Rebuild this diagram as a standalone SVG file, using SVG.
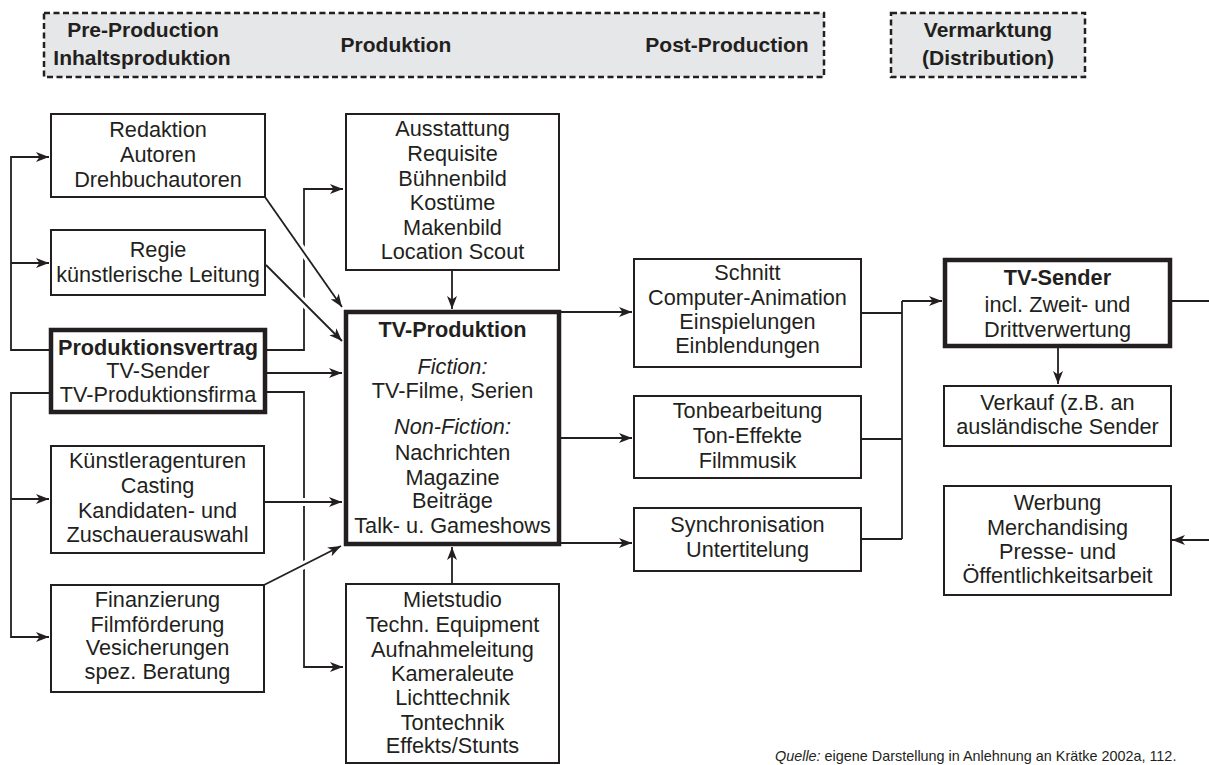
<svg xmlns="http://www.w3.org/2000/svg" width="1209" height="765" viewBox="0 0 1209 765">
<style>
text{font-family:"Liberation Sans",Arial,sans-serif;font-size:21.7px;fill:#231f20;text-anchor:middle}
.b{font-weight:bold}
.h{font-size:21px}
.i{font-style:italic}
.box{fill:#fff;stroke:#231f20;stroke-width:2}
.thick{fill:#fff;stroke:#231f20;stroke-width:4.5}
.hdr{fill:#e6e7e8;stroke:#231f20;stroke-width:2.5;stroke-dasharray:6 3.5}
.ln{fill:none;stroke:#231f20;stroke-width:1.8}
.arr{fill:none;stroke:#231f20;stroke-width:1.8;marker-end:url(#ah)}
.halo{fill:none;stroke:#fff;stroke-width:8}
.cap{font-size:14.4px;text-anchor:start}
</style>
<defs>
<marker id="ah" markerUnits="userSpaceOnUse" markerWidth="14" markerHeight="10" refX="13" refY="5" orient="auto">
<path d="M0,0 L13,5 L0,10 L3.5,5 z" fill="#231f20"/>
</marker>
</defs>
<rect width="1209" height="765" fill="#fff"/>
<g id="header-production">
<rect class="hdr" x="44" y="13" width="780" height="64"/>
<text class="b h" x="143" y="37">Pre-Production</text>
<text class="b h" x="142" y="65">Inhaltsproduktion</text>
<text class="b h" x="396" y="52">Produktion</text>
<text class="b h" x="727" y="52">Post-Production</text>
</g>
<g id="header-distribution">
<rect class="hdr" x="891" y="13" width="194" height="64"/>
<text class="b h" x="988" y="37">Vermarktung</text>
<text class="b h" x="988" y="65">(Distribution)</text>
</g>
<g id="connectors">
<path class="arr" d="M50,350 H11 V157 H49"/>
<path class="arr" d="M11,263 H49"/>
<path class="arr" d="M50,393 H11 V637 H49"/>
<path class="arr" d="M11,499 H49"/>
<path class="arr" d="M266,350 H304 V189 H343"/>
<path class="arr" d="M266,373 H342"/>
<path class="arr" d="M266,392 H304 V667 H343"/>
<path class="halo" d="M270,204 L336,298"/>
<path class="arr" d="M265,197 L342,307"/>
<path class="halo" d="M272,271 L334,333"/>
<path class="arr" d="M266,265 L342,341"/>
<path class="halo" d="M270,502 H334"/>
<path class="arr" d="M264,502 H342"/>
<path class="halo" d="M270,582 L334,550"/>
<path class="arr" d="M264,585 L341,546"/>
<path class="arr" d="M452,270 V309"/>
<path class="arr" d="M452,584 V547"/>
<path class="arr" d="M559,312 H632"/>
<path class="arr" d="M561,438 H632"/>
<path class="arr" d="M559,543 H632"/>
<path class="ln" d="M861,313 H902 M861,439 H902 M861,539 H902 M902,539 V301"/>
<path class="arr" d="M902,301 H942"/>
<path class="arr" d="M1058,346 V384"/>
<path class="ln" d="M1171,301 H1209"/>
<path class="arr" d="M1209,540 H1172"/>
</g>
<g id="redaktion">
<rect class="box" x="51" y="114" width="214" height="83"/>
<text x="158" y="137">Redaktion</text>
<text x="158" y="162">Autoren</text>
<text x="158" y="187">Drehbuchautoren</text>
</g>
<g id="regie">
<rect class="box" x="51" y="230" width="214" height="65"/>
<text x="158" y="257">Regie</text>
<text x="158" y="282">künstlerische Leitung</text>
</g>
<g id="produktionsvertrag">
<rect class="thick" x="51" y="330" width="214" height="82"/>
<text class="b" x="158" y="355">Produktionsvertrag</text>
<text x="158" y="378">TV-Sender</text>
<text x="158" y="402">TV-Produktionsfirma</text>
</g>
<g id="kuenstleragenturen">
<rect class="box" x="51" y="446" width="213" height="107"/>
<text x="157.5" y="468">Künstleragenturen</text>
<text x="157.5" y="493">Casting</text>
<text x="157.5" y="518">Kandidaten- und</text>
<text x="157.5" y="542">Zuschauerauswahl</text>
</g>
<g id="finanzierung">
<rect class="box" x="51" y="585" width="213" height="107"/>
<text x="157.5" y="607">Finanzierung</text>
<text x="157.5" y="632">Filmförderung</text>
<text x="157.5" y="655">Vesicherungen</text>
<text x="157.5" y="679">spez. Beratung</text>
</g>
<g id="ausstattung">
<rect class="box" x="346" y="114" width="213" height="156"/>
<text x="452.5" y="136">Ausstattung</text>
<text x="452.5" y="161">Requisite</text>
<text x="452.5" y="186">Bühnenbild</text>
<text x="452.5" y="210">Kostüme</text>
<text x="452.5" y="235">Makenbild</text>
<text x="452.5" y="259">Location Scout</text>
</g>
<g id="tv-produktion">
<rect class="thick" x="346" y="312" width="213" height="232"/>
<text class="b" x="452.5" y="337">TV-Produktion</text>
<text class="i" x="452.5" y="374">Fiction:</text>
<text x="452.5" y="398">TV-Filme, Serien</text>
<text class="i" x="452.5" y="434">Non-Fiction:</text>
<text x="452.5" y="460">Nachrichten</text>
<text x="452.5" y="485">Magazine</text>
<text x="452.5" y="508">Beiträge</text>
<text x="452.5" y="533">Talk- u. Gameshows</text>
</g>
<g id="mietstudio">
<rect class="box" x="346" y="584" width="213" height="179"/>
<text x="452.5" y="607">Mietstudio</text>
<text x="452.5" y="632">Techn. Equipment</text>
<text x="452.5" y="657">Aufnahmeleitung</text>
<text x="452.5" y="681">Kameraleute</text>
<text x="452.5" y="705">Lichttechnik</text>
<text x="452.5" y="730">Tontechnik</text>
<text x="452.5" y="753">Effekts/Stunts</text>
</g>
<g id="schnitt">
<rect class="box" x="634" y="259" width="227" height="108"/>
<text x="747.5" y="280">Schnitt</text>
<text x="747.5" y="305">Computer-Animation</text>
<text x="747.5" y="329">Einspielungen</text>
<text x="747.5" y="353">Einblendungen</text>
</g>
<g id="tonbearbeitung">
<rect class="box" x="634" y="396" width="227" height="82"/>
<text x="747.5" y="418">Tonbearbeitung</text>
<text x="747.5" y="443">Ton-Effekte</text>
<text x="747.5" y="468">Filmmusik</text>
</g>
<g id="synchronisation">
<rect class="box" x="634" y="508" width="227" height="63"/>
<text x="747.5" y="532">Synchronisation</text>
<text x="747.5" y="557">Untertitelung</text>
</g>
<g id="tv-sender">
<rect class="thick" x="945" y="260" width="225" height="86"/>
<text class="b" x="1057.5" y="285">TV-Sender</text>
<text x="1057.5" y="312">incl. Zweit- und</text>
<text x="1057.5" y="337">Drittverwertung</text>
</g>
<g id="verkauf">
<rect class="box" x="944" y="386" width="227" height="60"/>
<text x="1057.5" y="410">Verkauf (z.B. an</text>
<text x="1057.5" y="434">ausländische Sender</text>
</g>
<g id="werbung">
<rect class="box" x="944" y="486" width="227" height="109"/>
<text x="1057.5" y="510">Werbung</text>
<text x="1057.5" y="535">Merchandising</text>
<text x="1057.5" y="559">Presse- und</text>
<text x="1057.5" y="583">Öffentlichkeitsarbeit</text>
</g>
<g id="caption">
<text class="cap" x="775" y="761"><tspan font-style="italic">Quelle:</tspan> eigene Darstellung in Anlehnung an Krätke 2002a, 112.</text>
</g>
</svg>
